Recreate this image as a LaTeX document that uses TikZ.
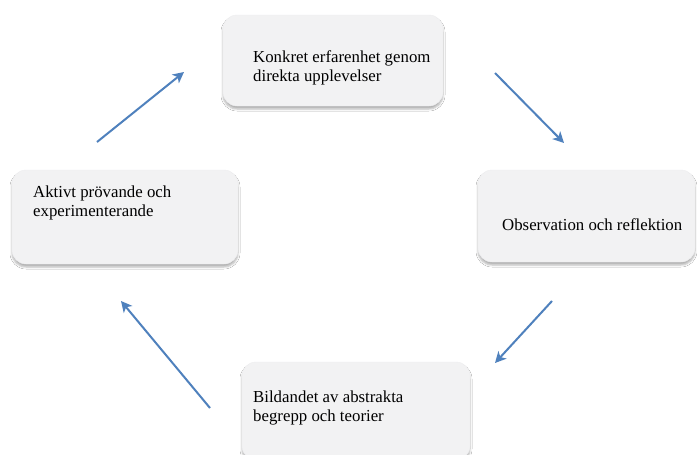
\documentclass[tikz,border=0pt]{standalone}
\usepackage{fontspec}
\setmainfont{Liberation Serif}
\usetikzlibrary{arrows.meta,shadows.blur}
\definecolor{boxfill}{RGB}{242,242,243}
\definecolor{boxedge}{RGB}{238,238,240}
\definecolor{cyclearrow}{RGB}{79,129,189}
\tikzset{
  stage/.style={draw=boxedge, line width=0.4pt, fill=boxfill, rounded corners=14pt,
    blur shadow={shadow xshift=0pt, shadow yshift=-3pt, shadow blur radius=2pt,
      shadow blur extra rounding=1pt, shadow opacity=30}},
  label/.style={anchor=west, align=left, inner sep=0pt, font=\fontsize{16.8}{19.5}\selectfont},
  flow/.style={draw=cyclearrow, line width=2pt, -{Stealth[length=11pt,width=11pt,inset=3pt]}}
}
\begin{document}
\begin{tikzpicture}[x=1pt,y=-1pt]
  \useasboundingbox (0,0) rectangle (697,455);
  \fill[white] (0,0) rectangle (697,455);

  % the four stages of the cycle
  \draw[stage] (223,15) rectangle (443,106);
  \draw[stage] (478,170) rectangle (695,262);
  \draw[stage] (242,362) rectangle (470,460);
  \draw[stage] (12,170) rectangle (238,264);

  \node[label] (konkret) at (253,68) {Konkret erfarenhet genom\\direkta upplevelser};
  \node[label] (observation) at (502,225) {Observation och reflektion};
  \node[label] (bildandet) at (253,408) {Bildandet av abstrakta\\begrepp och teorier};
  \node[label] (aktivt) at (33,203) {Aktivt prövande och\\experimenterande};

  % arrows between the stages
  \coordinate (a1s) at (97,142);  \coordinate (a1e) at (184,72);
  \coordinate (a2s) at (495,73);  \coordinate (a2e) at (564,143);
  \coordinate (a3s) at (552,301); \coordinate (a3e) at (495,363);
  \coordinate (a4s) at (210,408); \coordinate (a4e) at (121,301);

  \draw[flow] (a1s) -- (a1e);
  \draw[flow] (a2s) -- (a2e);
  \draw[flow] (a3s) -- (a3e);
  \draw[flow] (a4s) -- (a4e);
\end{tikzpicture}
\end{document}
